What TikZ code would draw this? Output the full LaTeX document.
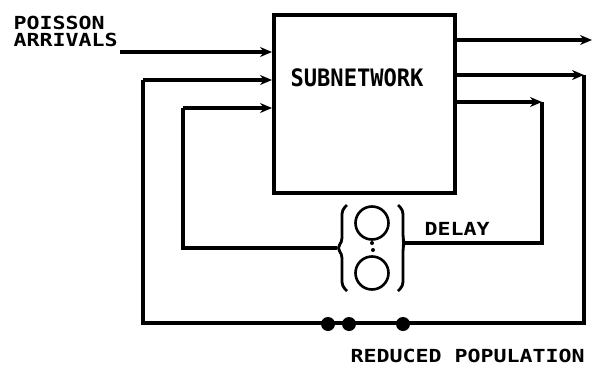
\documentclass[tikz,border=0pt]{standalone}
\usepackage{fontspec}
\newfontfamily\plotfont[FakeStretch=1.2]{DejaVu Sans Mono Bold}
\newfontfamily\plotbig[FakeStretch=0.92]{DejaVu Sans Mono Bold}
\usetikzlibrary{arrows.meta}
\begin{document}
\begin{tikzpicture}[x=1pt,y=-1pt,line width=3.2pt,line join=miter,
  arr/.style={-{Stealth[length=12pt,width=10pt]}},
  txt/.style={font=\plotfont\fontsize{18}{16.5}\selectfont,inner sep=0pt,anchor=base west},
  dot/.style={circle,fill,inner sep=0pt,minimum size=14pt},
  ring/.style={circle,draw,line width=2.6pt,inner sep=0pt,minimum size=33pt}]
\useasboundingbox (0,0) rectangle (595,370);
% main box
\node[draw,line width=4pt,minimum width=181pt,minimum height=178pt,anchor=north west,inner sep=0pt] (sub) at (272,13) {};
\node[font=\plotbig\fontsize{24}{24}\selectfont,inner sep=0pt,anchor=base west] (subl) at (289,86) {SUBNETWORK};
% labels
\node[txt,align=left,anchor=north west] (poi) at (12,15) {POISSON\\ARRIVALS};
\node[txt] (dly) at (423,235) {DELAY};
\node[txt] (red) at (349,362) {REDUCED POPULATION};
% coordinates
\coordinate (pa) at (120,52);
\coordinate (o1) at (584,75);
\coordinate (o2) at (584,323);
\coordinate (o3) at (143,323);
\coordinate (o4) at (143,80);
\coordinate (i1) at (542,102);
\coordinate (i2) at (542,243);
\coordinate (dl) at (337,248);
\coordinate (dr) at (404,243);
\coordinate (i3) at (183,248);
\coordinate (i4) at (183,108);
\coordinate (top) at (592,40);
% delay station
\node[ring] (c1) at (372,223) {};
\node[ring] (c2) at (372,273) {};
\node[circle,fill,inner sep=0pt,minimum size=4pt] (d1) at (372,243) {};
\node[circle,fill,inner sep=0pt,minimum size=4pt] (d2) at (373,250) {};
\draw[line width=2.8pt,rounded corners=4pt] (347,205) -- (342,210) -- (342,242) -- (dl) -- (342,254) -- (342,286) -- (347,291);
\draw[line width=2.8pt,rounded corners=4pt] (398,205) -- (403,210) -- (403,238) -- (dr) -- (403,248) -- (403,286) -- (398,291);
% bottom dots
\node[dot] (b1) at (328,324) {};
\node[dot] (b2) at (349,324) {};
\node[dot] (b3) at (403,324) {};
% arrows into the subnetwork
\draw[arr] (pa) -- (pa -| sub.west);
\draw[arr] (o4) -- (o4 -| sub.west);
\draw[arr] (i4) -- (i4 -| sub.west);
% outputs
\draw[arr] (sub.east |- top) -- (top);
\draw[arr] (sub.east |- o1) -- (o1);
\draw[arr] (sub.east |- i1) -- (i1);
% loops
\draw (o1) -- (o2) -- (o3) -- (o4);
\draw (i1) -- (i2) -- (dr);
\draw (dl) -- (i3) -- (i4);
\end{tikzpicture}
\end{document}
